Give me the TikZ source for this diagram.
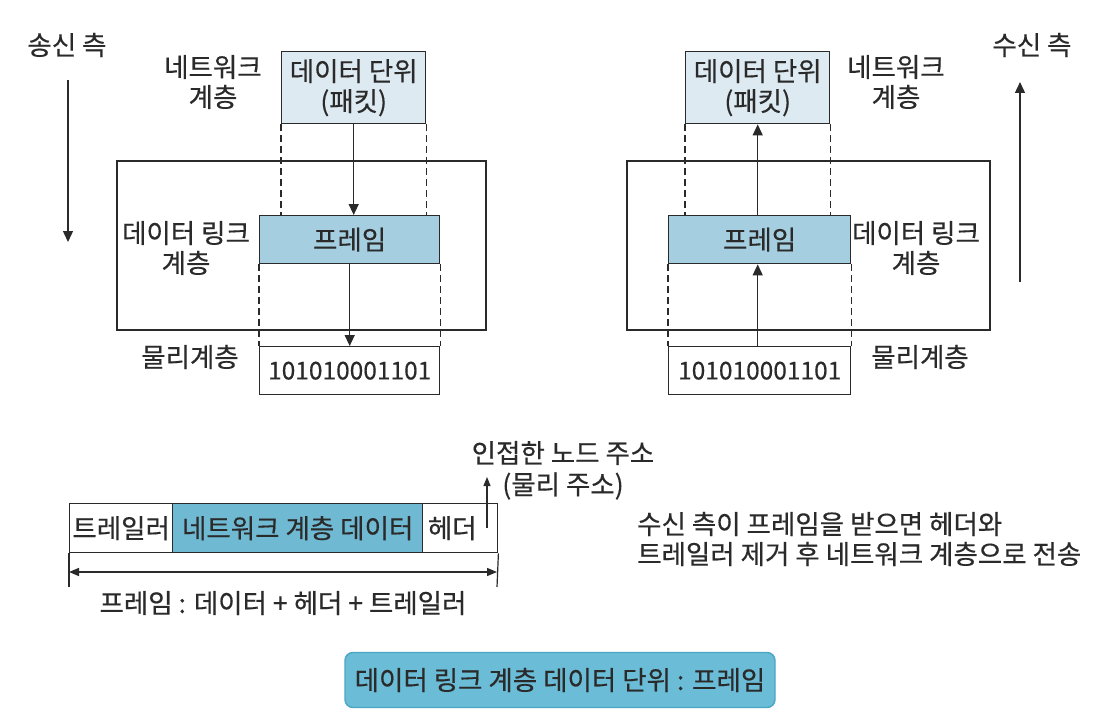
\documentclass[tikz,border=0pt]{standalone}
\usepackage{fontspec}
\setmainfont{Noto Sans CJK KR}[FakeBold=0.4]
\usetikzlibrary{arrows.meta}
\definecolor{pktfill}{HTML}{DDEAF2}
\definecolor{frmfill}{HTML}{A5CFE0}
\definecolor{midfill}{HTML}{6FB9D2}
\definecolor{botfill}{HTML}{6BBCD6}
\definecolor{botdraw}{HTML}{4AA6C4}
\definecolor{ink}{HTML}{2A2A2A}
\begin{document}
\begin{tikzpicture}[x=1pt,y=-1pt,
  every node/.style={font=\fontsize{26.5}{30}\selectfont, text=ink},
  digits/.style={font=\fontsize{24.5}{29}\selectfont},
  boxline/.style={draw=ink, line width=1.4pt},
  dashline/.style={draw=ink, line width=1.3pt, dash pattern=on 7pt off 4pt},
  conn/.style={draw=ink, line width=1.4pt, -{Triangle[length=11pt,width=10pt]}},
  lbl/.style={align=center, inner sep=0pt}]
\useasboundingbox (0,0) rectangle (1102,722);
\fill[white] (0,0) rectangle (1102,722);

% ---------- left (sending side)
\node[lbl] (sendlbl) at (67,45) {송신 측};
\coordinate (sendA) at (68,80);
\coordinate (sendB) at (68,242);
\draw[conn] (sendA) -- (sendB);

\draw[boxline] (117,161) rectangle (486,330);
\node[lbl] (lnetlbl) at (213,82) {네트워크\\계층};
\node[boxline, fill=pktfill, minimum width=144pt, minimum height=72pt, inner sep=0pt, align=center, anchor=north west] (lpkt) at (281,51) {데이터 단위\\(패킷)};
\node[boxline, fill=frmfill, minimum width=180pt, minimum height=48pt, inner sep=0pt, anchor=north west] (lfrm) at (259,215) {프레임};
\node[boxline, digits, minimum width=180pt, minimum height=48pt, inner sep=0pt, anchor=north west] (lbit) at (259,346) {101010001101};
\node[lbl] (ldllbl) at (186,248) {데이터 링크\\계층};
\node[lbl] (lphylbl) at (190,357) {물리계층};

\draw[dashline] (lpkt.south west) -- (lpkt.south west |- lfrm.north);
\draw[dashline] (lpkt.south east) -- (lpkt.south east |- lfrm.north);
\draw[dashline] (lfrm.south west) -- (lbit.north west);
\draw[dashline] (lfrm.south east) -- (lbit.north east);
\draw[conn] (lpkt.south) -- (lpkt.south |- lfrm.north);
\draw[conn] (lfrm.south) -- (lbit.north);

% ---------- right (receiving side)
\node[lbl] (recvlbl) at (1032,45) {수신 측};
\coordinate (recvA) at (1020,282);
\coordinate (recvB) at (1020,82);
\draw[conn] (recvA) -- (recvB);

\draw[boxline] (627,161) rectangle (990,330);
\node[lbl] (rnetlbl) at (896,82) {네트워크\\계층};
\node[boxline, fill=pktfill, minimum width=144pt, minimum height=72pt, inner sep=0pt, align=center, anchor=north west] (rpkt) at (685,51) {데이터 단위\\(패킷)};
\node[boxline, fill=frmfill, minimum width=182pt, minimum height=48pt, inner sep=0pt, anchor=north west] (rfrm) at (668,215) {프레임};
\node[boxline, digits, minimum width=182pt, minimum height=48pt, inner sep=0pt, anchor=north west] (rbit) at (668,346) {101010001101};
\node[lbl] (rdllbl) at (916,248) {데이터 링크\\계층};
\node[lbl] (rphylbl) at (920,357) {물리계층};

\draw[dashline] (rpkt.south west) -- (rpkt.south west |- rfrm.north);
\draw[dashline] (rpkt.south east) -- (rpkt.south east |- rfrm.north);
\draw[dashline] (rfrm.south west) -- (rbit.north west);
\draw[dashline] (rfrm.south east) -- (rbit.north east);
\draw[conn] (rpkt.south |- rfrm.north) -- (rpkt.south);
\draw[conn] (rbit.north -| rpkt.south) -- (rfrm.south -| rpkt.south);

% ---------- frame structure
\node[boxline, minimum width=103pt, minimum height=49pt, inner sep=0pt, anchor=north west] (trl) at (69,503) {트레일러};
\node[boxline, fill=midfill, minimum width=250pt, minimum height=49pt, inner sep=0pt, anchor=north west] (nld) at (172,503) {네트워크 계층 데이터};
\node[boxline, minimum width=75pt, minimum height=49pt, inner sep=0pt, anchor=north west] (hdr) at (422,503) {\hspace*{-16pt}헤더};
\coordinate (adrA) at (487,528);
\coordinate (adrB) at (487,477);
\draw[conn, line width=1.1pt, -{Triangle[length=9pt,width=7pt]}] (adrA) -- (adrB);
\node[lbl] (adrlbl) at (563,453) {인접한 노드 주소};
\node[lbl] (physlbl) at (563,486) {(물리 주소)};

\coordinate (tickL) at (69,587);
\coordinate (tickR) at (497,587);
\draw[draw=ink, line width=1.2pt] (trl.south west) -- (tickL);
\draw[draw=ink, line width=1.2pt] (hdr.south east) -- (tickR);
\draw[draw=ink, line width=1.4pt, {Triangle[length=10pt,width=8pt]}-{Triangle[length=10pt,width=8pt]}] (69,572) -- (497,572);
\node[lbl] (frmeq) at (283,603) {프레임 : 데이터 + 헤더 + 트레일러};

\node[lbl, align=left, anchor=west] (note) at (637,539) {수신 측이 프레임을 받으면 헤더와\\트레일러 제거 후 네트워크 계층으로 전송};

% ---------- bottom summary
\node[draw=botdraw, line width=1.4pt, fill=botfill, rounded corners=8pt, minimum width=430pt, minimum height=55pt, inner sep=0pt] (summary) at (560,680) {데이터 링크 계층 데이터 단위 : 프레임};
\end{tikzpicture}
\end{document}
